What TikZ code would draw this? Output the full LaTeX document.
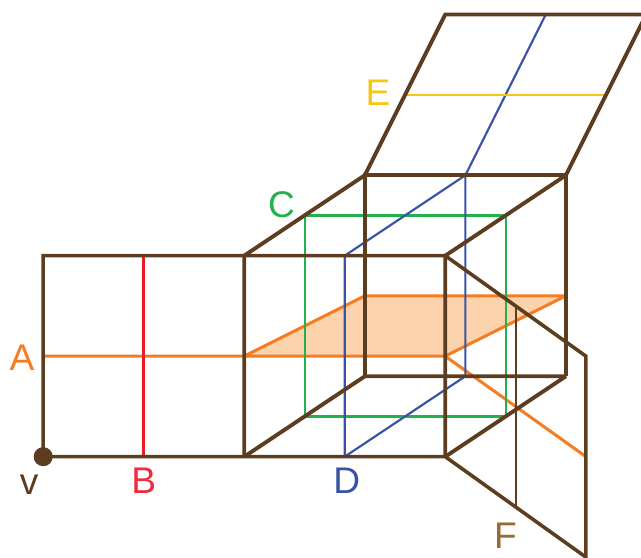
\documentclass[tikz,border=0pt]{standalone}
\usepackage{fontspec}
\setmainfont{Liberation Sans}
\definecolor{frame}{RGB}{92,61,32}
\definecolor{labelF}{RGB}{148,106,53}
\definecolor{sliceA}{RGB}{245,124,32}
\definecolor{sliceFill}{RGB}{253,211,174}
\definecolor{sliceB}{RGB}{237,28,36}
\definecolor{labelB}{RGB}{239,43,64}
\definecolor{sliceC}{RGB}{34,177,76}
\definecolor{sliceD}{RGB}{57,83,164}
\definecolor{sliceE}{RGB}{245,197,24}
\tikzset{
  edge/.style={frame,line width=1pt,line join=miter},
  heavy/.style={frame,line width=1.1pt,line join=miter},
  tag/.style={font=\fontsize{10.5}{12}\selectfont,inner sep=0pt}
}

\begin{document}
\begin{tikzpicture}
  \clip (-0.43,-1.008) rectangle (5.948,4.544);
  \fill[sliceFill] (2,1) -- (3.2,1.6) -- (5.2,1.6) -- (4,1) -- cycle;
  \draw[sliceA,line width=0.85pt,line join=bevel] (0,1) -- (2,1) -- (3.2,1.6) -- (5.2,1.6) -- (4,1) -- cycle;
  \draw[sliceA,line width=0.85pt] (4,1) -- (5.4,0);
  \draw[sliceB,line width=0.7pt] (1,0) -- (1,2);
  \draw[sliceC,line width=0.58pt] (2.6,0.4) rectangle (4.6,2.4);
  \draw[sliceD,line width=0.6pt] (3,0) -- (3,2) -- (4.2,2.8) -- (4.2,0.8) -- cycle;
  \draw[sliceD,line width=0.6pt] (4.2,2.8) -- (5,4.4);
  \draw[sliceE,line width=0.6pt] (3.6,3.6) -- (5.6,3.6);
  \draw[frame,line width=0.6pt] (4.7,1.5) -- (4.7,-0.5);
  \draw[edge] (2,2) -- (0,2) -- (0,0) -- (4,0) -- (5.4,-1) -- (5.4,1) -- (4,2) -- (2,2);
  \draw[heavy] (2,0) -- (2,2) -- (3.2,2.8);
  \draw[heavy] (4,0) -- (4,2) -- (5.2,2.8);
  \draw[heavy,line join=bevel] (2,0) -- (3.2,0.8) -- (5.2,0.8) -- (4,0);
  \draw[heavy] (3.2,0.8) -- (3.2,2.8) -- (5.2,2.8) -- (5.2,0.8);
  \draw[heavy] (3.2,2.8) -- (4,4.4) -- (6,4.4) -- (5.2,2.8);
  \fill[frame] (0,0) circle (0.095);
  \node[tag,text=frame] (labv) at (-0.14,-0.28) {v};
  \node[tag,text=sliceA] (labA) at (-0.21,0.98) {A};
  \node[tag,text=labelB] (labB) at (1.0,-0.24) {B};
  \node[tag,text=sliceC] (labC) at (2.37,2.51) {C};
  \node[tag,text=sliceD] (labD) at (3.02,-0.24) {D};
  \node[tag,text=sliceE] (labE) at (3.33,3.62) {E};
  \node[tag,text=labelF] (labF) at (4.6,-0.79) {F};
\end{tikzpicture}
\end{document}
